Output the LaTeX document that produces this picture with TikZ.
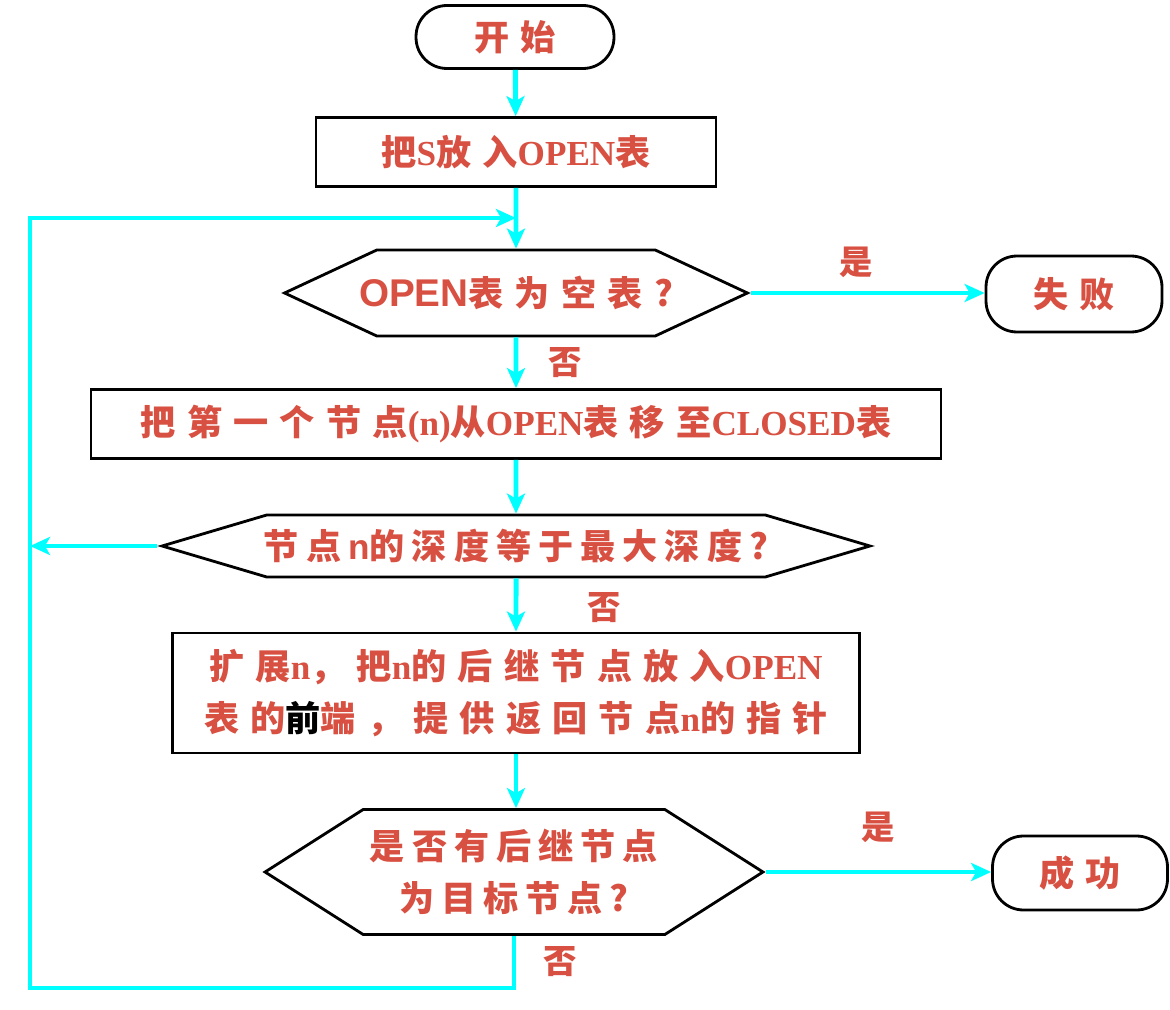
\documentclass[tikz,border=0pt]{standalone}
\usepackage{fontspec}
\setmainfont{Liberation Serif}
\setsansfont{Liberation Sans}
\newfontfamily\cjk{Noto Sans CJK SC}[LetterSpace=32]
\newfontfamily\cjktight{Noto Sans CJK SC}[LetterSpace=20]
\usetikzlibrary{shapes.symbols,shapes.misc,arrows.meta}
\definecolor{txtred}{RGB}{215,80,65}
\definecolor{flowcyan}{RGB}{0,255,255}
\newcommand\zh[1]{{\cjk #1}}
\newcommand\zht[1]{{\cjktight #1}}

\begin{document}
\begin{tikzpicture}[x=0.02cm, y=-0.02cm]
      \tikzset{
        base/.style={draw, line width=1.6pt, text=txtred, align=center,
          font=\bfseries\fontsize{20}{30}\selectfont, inner sep=0pt},
        term/.style={base, rectangle, rounded corners=0.62cm},
        proc/.style={base, rectangle},
        test/.style={base, signal, signal to=west and east, inner xsep=-1.5cm},
        flow/.style={draw=flowcyan, line width=2.8pt,
          -{Stealth[length=0.4cm, width=0.36cm, inset=0.1cm]}},
        lbl/.style={text=txtred, font=\bfseries\fontsize{19}{20}\selectfont}
      }
      \useasboundingbox (0,0) rectangle (1170,1010);

      % Start and first step
      \node[term, minimum width=3.96cm, minimum height=1.26cm] (start) at (515,37) {\zh{开始}};
      \node[proc, minimum width=8cm, minimum height=1.38cm] (put) at (516,152)
        {\zh{把}S\zh{放入}OPEN\zh{表}};

      % OPEN empty test
      \node[test, signal pointer angle=50, minimum width=9.26cm, minimum height=1.72cm] (empty) at (516,293)
        {\textsf{\fontsize{22}{26}\selectfont OPEN}\zh{表为空表?}};
      \node[term, minimum width=3.52cm, minimum height=1.52cm] (fail) at (1074,294) {\zh{失败}};

      % Move first node
      \node[proc, minimum width=17cm, minimum height=1.38cm] (move) at (516,424)
        {\zh{把第一个节点}(n)\zh{从}OPEN\zh{表移至}CLOSED\zh{表}};

      % Depth test
      \node[test, signal pointer angle=33, minimum width=14.16cm, minimum height=1.24cm] (depth) at (516,546)
        {\zht{节点}\textsf{n}\zht{的深度等于最大深度?}};

      % Expand
      \node[proc, minimum width=13.74cm, minimum height=2.4cm] (expand) at (516,693)
        {\zh{扩展}n\zh{，把}n\zh{的后继节点放入}OPEN\\
         \zh{表的{\color{black}前}端，提供返回节点}n\zh{的指针}};

      % Goal test
      \node[test, signal pointer angle=65, minimum width=9.96cm, minimum height=2.5cm] (goal) at (514,872)
        {\zht{是否有后继节点}\\\zht{为目标节点?}};
      \node[term, minimum width=3.5cm, minimum height=1.48cm] (succ) at (1080,873) {\zh{成功}};

      % Loop corners
      \coordinate (loopbl) at (30,988);
      \coordinate (looptl) at (30,218);

      % Main flow
      \draw[flow] (start) -- (put);
      \draw[flow] (put) -- (empty);
      \draw[flow] (empty.east) -- node[lbl, above=4pt, pos=0.45] {\zh{是}} (empty.east -| fail.west);
      \draw[flow] (empty) -- node[lbl, right=14pt] {\zh{否}} (move);
      \draw[flow] (move) -- (depth);
      \draw[flow] (depth.west) -- (depth.west -| loopbl);
      \draw[flow] (depth) -- node[lbl, right=36pt, pos=0.55] {\zh{否}} (expand);
      \draw[flow] (expand) -- (expand.south |- goal.north);
      \draw[flow] (goal.east) -- node[lbl, above=12pt] {\zh{是}} (goal.east -| succ.west);

      % Loop back
      \draw[flow] (goal.south) -- node[lbl, right=12pt] {\zh{否}} (goal.south |- loopbl)
        -- (loopbl) -- (looptl) -- (put.south |- looptl);
    \end{tikzpicture}
\end{document}
